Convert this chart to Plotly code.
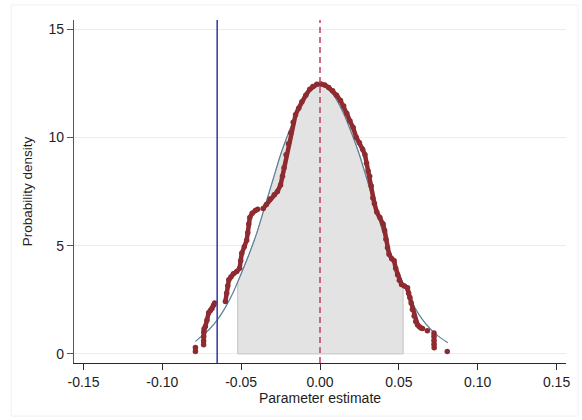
import plotly.graph_objects as go

# ---- data ----
# Kernel density estimate (dark red dots); None marks gaps between observation clusters
kde_x = [-0.0790, -0.0790, None,
         -0.0738, -0.0738, -0.0738, -0.0737, -0.0735, -0.0727, -0.0717, -0.0706, -0.0695,
         -0.0685, -0.0675, -0.0668, None,
         -0.0600, -0.0592, -0.0585, -0.0578, -0.0565, -0.0549, -0.0528, -0.0510, -0.0503,
         -0.0496, -0.0480, -0.0465, -0.0458, -0.0452, -0.0445, -0.0430, -0.0410, -0.0395, None,
         -0.0360, -0.0340, -0.0317, -0.0290, -0.0270, -0.0250, -0.0238, -0.0228, -0.0215,
         -0.0200, -0.0185, -0.0170, -0.0155, -0.0135, -0.0115, -0.0090, -0.0065, -0.0045,
         -0.0020, 0.0005, 0.0030, 0.0055, 0.0080, 0.0105, 0.0130, 0.0150, 0.0170, 0.0190,
         0.0210, 0.0230, 0.0250, 0.0270, 0.0285, 0.0295, 0.0305, 0.0315, 0.0325, 0.0335,
         0.0345, 0.0360, 0.0380, 0.0400, 0.0410, 0.0418, 0.0428, 0.0438, 0.0455, 0.0470,
         0.0480, 0.0492, 0.0503, 0.0517, 0.0535, 0.0555, 0.0562, 0.0570, 0.0578, 0.0586,
         0.0597, 0.0607, 0.0618, 0.0629, 0.0640, 0.0650, None,
         0.0681, None,
         0.0723, 0.0723, 0.0723, 0.0723, 0.0724, None,
         0.0807]
kde_y = [0.11, 0.30, None,
         0.42, 0.60, 0.80, 1.00, 1.15, 1.26, 1.55, 1.90, 2.00,
         2.10, 2.25, 2.35, None,
         2.42, 2.80, 3.15, 3.42, 3.55, 3.70, 3.80, 3.95, 4.30,
         4.65, 4.95, 5.25, 5.60, 6.00, 6.30, 6.50, 6.62, 6.68, None,
         6.72, 6.90, 7.15, 7.35, 7.50, 7.80, 8.20, 8.60, 9.20,
         9.70, 10.20, 10.70, 11.05, 11.35, 11.65, 11.95, 12.22, 12.35,
         12.45, 12.47, 12.42, 12.30, 12.15, 11.95, 11.70, 11.45, 11.10, 10.75,
         10.45, 10.00, 9.75, 9.45, 9.20, 8.80, 8.45, 8.20, 7.75, 7.20,
         6.95, 6.55, 6.30, 6.00, 5.70, 5.30, 4.90, 4.60, 4.40, 4.30,
         3.95, 3.65, 3.40, 3.20, 3.14, 3.05, 2.80, 2.60, 2.35, 2.05,
         1.75, 1.50, 1.35, 1.26, 1.20, 1.17, None,
         1.07, None,
         0.97, 0.80, 0.62, 0.45, 0.28, None,
         0.11]

# Fitted normal density (thin steel-blue line)
norm_x = [-0.079, -0.075, -0.070, -0.065, -0.060, -0.055, -0.050, -0.045, -0.040, -0.035,
          -0.030, -0.025, -0.020, -0.015, -0.010, -0.005, 0.000, 0.005, 0.010, 0.015,
          0.020, 0.025, 0.030, 0.035, 0.040, 0.045, 0.050, 0.055, 0.060, 0.065,
          0.070, 0.075, 0.081]
norm_y = [0.58, 0.82, 1.15, 1.58, 2.15, 2.85, 3.70, 4.60, 5.60, 6.80,
          8.00, 9.20, 10.20, 11.10, 11.80, 12.25, 12.40, 12.25, 11.80, 11.10,
          10.20, 9.20, 8.00, 6.80, 5.60, 4.60, 3.70, 2.85, 2.15, 1.58,
          1.15, 0.82, 0.52]

# Shaded band under the normal curve
shade_x = [-0.0522, -0.050, -0.045, -0.040, -0.035, -0.030, -0.025, -0.020, -0.015, -0.010,
           -0.005, 0.000, 0.005, 0.010, 0.015, 0.020, 0.025, 0.030, 0.035, 0.040,
           0.045, 0.050, 0.0527]
shade_y = [3.33, 3.70, 4.60, 5.60, 6.80, 8.00, 9.20, 10.20, 11.10, 11.80,
           12.25, 12.40, 12.25, 11.80, 11.10, 10.20, 9.20, 8.00, 6.80, 5.60,
           4.60, 3.70, 3.27]

observed_value = -0.0652   # blue solid line
null_value = 0.0           # red dashed line

x_ticks = [-0.15, -0.10, -0.05, 0.00, 0.05, 0.10, 0.15]
x_tick_labels = ["-0.15", "-0.10", "-0.05", "0.00", "0.05", "0.10", "0.15"]
y_ticks = [0, 5, 10, 15]

# ---- figure ----
fig = go.Figure()

poly_x = [shade_x[0]] + shade_x + [shade_x[-1], shade_x[0]]
poly_y = [0] + shade_y + [0, 0]
fig.add_trace(go.Scatter(x=poly_x, y=poly_y, mode="lines", fill="toself",
                         fillcolor="#E3E3E3", line=dict(color="#C4C4C4", width=1),
                         hoverinfo="skip", showlegend=False))

fig.add_trace(go.Scatter(x=norm_x, y=norm_y, mode="lines", line_shape="spline",
                         line=dict(color="#5A7F98", width=1.2), showlegend=False))

fig.add_trace(go.Scatter(x=kde_x, y=kde_y, mode="lines+markers",
                         line=dict(color="#8E2B31", width=4.5),
                         marker=dict(color="#8E2B31", size=5.5),
                         connectgaps=False, showlegend=False))

fig.add_shape(type="line", xref="x", yref="paper", x0=observed_value, x1=observed_value,
              y0=0, y1=1, line=dict(color="#3B44A8", width=1.6))
fig.add_shape(type="line", xref="x", yref="paper", x0=null_value, x1=null_value,
              y0=0, y1=1, line=dict(color="#C24A66", width=1.6, dash="6px,4px"))

# faint outer graph-region frame
fig.add_shape(type="rect", xref="paper", yref="paper",
              x0=(11 - 74) / 494, x1=(580 - 74) / 494,
              y0=-(416 - 363) / 343, y1=1 + (20 - 5) / 343,
              line=dict(color="#F0F0F0", width=1), layer="below")

font_family = "Liberation Sans, Arial, Helvetica, sans-serif"
fig.update_layout(
    width=582, height=420,
    margin=dict(l=74, r=14, t=20, b=57),
    paper_bgcolor="white", plot_bgcolor="white",
    font=dict(family=font_family, size=14, color="#1E1E1E"),
    showlegend=False,
)
fig.update_xaxes(range=[-0.156, 0.156], tickvals=x_ticks, ticktext=x_tick_labels,
                 showgrid=False, zeroline=False, showline=True, linecolor="#2A2A2A",
                 linewidth=1.3, ticks="outside", ticklen=6, tickcolor="#2A2A2A",
                 tickfont=dict(size=14),
                 title=dict(text="Parameter estimate", font=dict(size=14), standoff=2))
fig.update_yaxes(range=[-0.42, 15.42], tickvals=y_ticks,
                 showgrid=True, gridcolor="#EDEDED", gridwidth=1, zeroline=False,
                 showline=True, linecolor="#555555", linewidth=1.2,
                 ticks="outside", ticklen=6, tickcolor="#555555",
                 tickfont=dict(size=14),
                 title=dict(text="Probability density", font=dict(size=13.5), standoff=12))

fig.write_html("out.html")
